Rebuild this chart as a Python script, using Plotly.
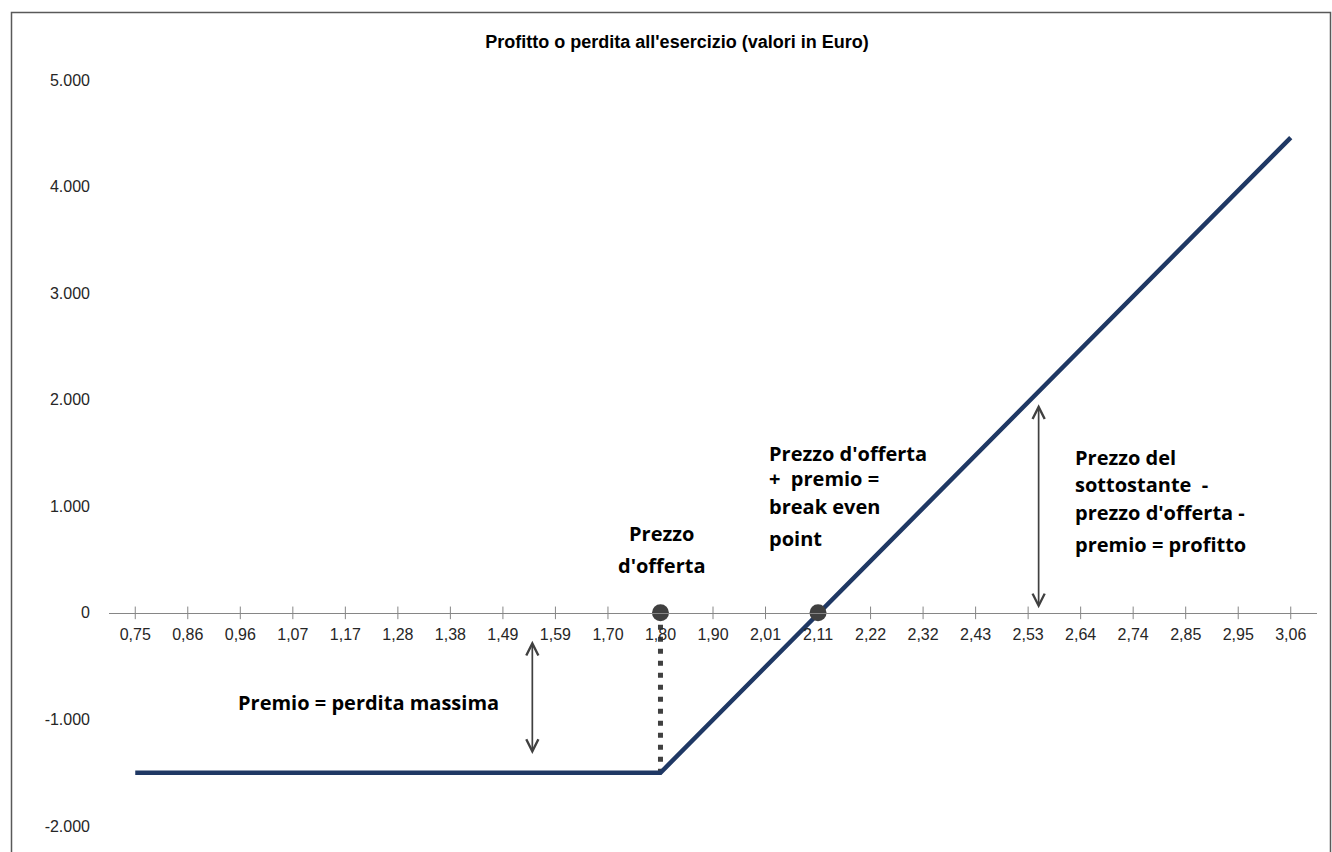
import plotly.graph_objects as go

# ---- data ----
prices = ['0,75', '0,86', '0,96', '1,07', '1,17', '1,28', '1,38', '1,49', '1,59', '1,70',
          '1,80', '1,90', '2,01', '2,11', '2,22', '2,32', '2,43', '2,53', '2,64', '2,74',
          '2,85', '2,95', '3,06']
profit = [-1500, -1500, -1500, -1500, -1500, -1500, -1500, -1500, -1500, -1500,
          -1500, -1003, -507, -10, 487, 983, 1480, 1977, 2473, 2970,
          3467, 3963, 4460]
point_x = ['1,80', '2,11']
point_y = [0, 0]
strike_x = ['1,80', '1,80']
strike_y = [0, -1500]
y_ticks = [-2000, -1000, 0, 1000, 2000, 3000, 4000, 5000]
y_ticktext = ['-2.000', '-1.000', '0', '1.000', '2.000', '3.000', '4.000', '5.000']
title = "Profitto o perdita all'esercizio (valori in Euro)"

DARK = '#404040'
NAVY = '#1f3864'
AXIS = '#868686'
TXT_FONT = dict(family='Open Sans', size=20, color='#000000', weight='bold')

fig = go.Figure()
# tick marks crossing the horizontal axis at each category
fig.add_trace(go.Scatter(x=prices, y=[0] * len(prices), mode='markers',
                         marker=dict(symbol='line-ns-open', size=9, color=AXIS,
                                     line=dict(color=AXIS, width=1)),
                         hoverinfo='skip', showlegend=False))
fig.add_trace(go.Scatter(x=strike_x, y=strike_y, mode='lines',
                         line=dict(color=DARK, width=5, dash='5px,7px'),
                         hoverinfo='skip', showlegend=False))
fig.add_trace(go.Scatter(x=prices, y=profit, mode='lines',
                         line=dict(color=NAVY, width=4.5),
                         showlegend=False))
fig.add_trace(go.Scatter(x=point_x, y=point_y, mode='markers',
                         marker=dict(color=DARK, size=17, line=dict(width=0)),
                         showlegend=False))

annotations = []
# double-headed arrows
for xa, y0, y1 in [(7.56, -262, -1339), (17.2, 1957, 28)]:
    annotations.append(dict(x=xa, y=y0, ax=xa, ay=y1, xref='x', yref='y',
                            axref='x', ayref='y', text='', showarrow=True,
                            arrowhead=5, startarrowhead=5, arrowside='end+start',
                            arrowsize=1.4, startarrowsize=1.4, arrowwidth=1.7,
                            arrowcolor=DARK, standoff=0, startstandoff=0))

# text labels (one annotation per line)
labels = [
    ('Premio = perdita massima', 4.44, -843, 'center'),
    ('Prezzo', 10.02, 740, 'center'),
    ("d'offerta", 10.02, 449, 'center'),
    ("Prezzo d'offerta", 12.02, 1498, 'left'),
    ('+  premio =', 12.02, 1264, 'left'),
    ('break even', 12.02, 1002, 'left'),
    ('point', 12.02, 702, 'left'),
    ('Prezzo del', 17.85, 1461, 'left'),
    ('sottostante  -', 17.85, 1208, 'left'),
    ("prezzo d'offerta -", 17.85, 946, 'left'),
    ('premio = profitto', 17.85, 637, 'left'),
]
for t, xa, ya, anc in labels:
    annotations.append(dict(x=xa, y=ya, xref='x', yref='y', text=t, showarrow=False,
                            xanchor=anc, yanchor='middle', font=TXT_FONT))

fig.update_layout(
    width=1332, height=852,
    margin=dict(l=109, r=15, t=80, b=26),
    paper_bgcolor='white', plot_bgcolor='white',
    title=dict(text=title, x=677 / 1332, xref='container', xanchor='center',
               y=1 - 42 / 852, yref='container', yanchor='middle',
               font=dict(family='Liberation Sans', size=18, color='#000000', weight='bold')),
    xaxis=dict(type='category', categoryorder='array', categoryarray=prices,
               range=[-0.5, 22.5], anchor='free', position=2 / 7,
               showline=True, linecolor=AXIS, linewidth=1,
               ticks='', showgrid=False, zeroline=False, ticklabelstandoff=7,
               tickfont=dict(family='Liberation Sans', size=16, color='#262626')),
    yaxis=dict(range=[-2000, 5000], tickvals=y_ticks, ticktext=y_ticktext,
               showline=False, showgrid=False, zeroline=False, ticks='',
               ticklabelstandoff=18,
               tickfont=dict(family='Liberation Sans', size=16, color='#262626')),
    annotations=annotations,
    shapes=[dict(type='rect', xref='paper', yref='paper',
                 x0=(11.5 - 109) / 1208, x1=(1330.5 - 109) / 1208,
                 y0=(826 - 870) / 746, y1=(826 - 12.5) / 746,
                 line=dict(color='#595959', width=1.5), layer='below')],
    showlegend=False,
)

fig.write_html('out.html', config={'displayModeBar': False},
               post_script="document.body.style.margin='0px';document.body.style.overflow='hidden';")
